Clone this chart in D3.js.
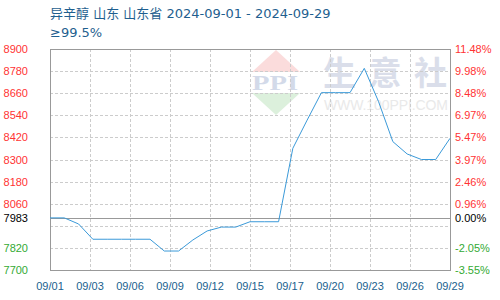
<!DOCTYPE html>
<html>
<head>
<meta charset="utf-8">
<script src="https://cdn.jsdelivr.net/npm/d3@7"></script>
<style>
  body { margin: 0; background: #fff; }
  svg { display: block; font-family: "Liberation Sans", Arial, sans-serif; }
</style>
</head>
<body>
<svg></svg>
<script>
// price per day, 09/01 .. 09/29
const days = d3.range(1, 30);
const prices = [7983, 7983, 7950, 7867, 7867, 7867, 7867, 7867, 7803, 7803,
                7863, 7912, 7933, 7933, 7962, 7962, 7962, 8361, 8514, 8663,
                8663, 8663, 8795, 8614, 8397, 8330, 8300, 8300, 8415];
const xLabels = ["09/01", "09/03", "09/06", "09/09", "09/12", "09/15",
                 "09/17", "09/20", "09/23", "09/26", "09/29"];
const yTicks = [7700, 7820, 7940, 8060, 8180, 8300, 8420, 8540, 8660, 8780, 8900];
const baseValue = 7983;
const titleLines = ["异辛醇 山东 山东省 2024-09-01 - 2024-09-29", "≥99.5%"];

let width = 500, height = 300;
let margin = {left: 50, right: 50, top: 49, bottom: 30};

let svg = d3.select("svg").attr("width", width).attr("height", height);

let x = d3.scaleLinear().domain([0, days.length - 1]).range([margin.left, width - margin.right]);
let y = d3.scaleLinear().domain([7700, 8900]).range([height - margin.bottom, margin.top]);

// watermark (logo + site name)
let wm = svg.append("g");
wm.append("path").attr("d", "M276,50 L300,72 L252,72 Z").attr("fill", "#fbdcdc");
wm.append("path").attr("d", "M252,93 L300,93 L276,115 Z").attr("fill", "#dcf0dc");
wm.append("text").attr("x", 252).attr("y", 90)
  .attr("textLength", 46).attr("lengthAdjust", "spacingAndGlyphs")
  .attr("font-size", 21).attr("font-family", "Liberation Serif, serif").attr("font-weight", "bold")
  .attr("fill", "#d3dae9").text("PPI");
wm.append("text").attr("x", 323).attr("y", 85).attr("textLength", 124)
  .attr("font-size", 33).attr("font-family", "Noto Sans CJK SC").attr("font-weight", "bold")
  .attr("fill", "#dadeea").text("生意社");
wm.append("text").attr("x", 324).attr("y", 110).attr("textLength", 124)
  .attr("font-size", 14).attr("fill", "#e9e9e9").text("WWW.100PPI.COM");

// horizontal grid
svg.append("g").selectAll("line").data(yTicks.slice(1, -1)).join("line")
  .attr("x1", margin.left).attr("x2", width - margin.right)
  .attr("y1", d => Math.round(y(d)) + 0.5).attr("y2", d => Math.round(y(d)) + 0.5)
  .attr("stroke", "#ccc").attr("stroke-dasharray", "3,2");

// vertical grid, evenly spaced with the date labels
let xPos = d3.range(xLabels.length).map(i => x(i * (days.length - 1) / (xLabels.length - 1)));
svg.append("g").selectAll("line").data(xPos.slice(1, -1)).join("line")
  .attr("x1", d => Math.round(d) + 0.5).attr("x2", d => Math.round(d) + 0.5)
  .attr("y1", margin.top).attr("y2", height - margin.bottom)
  .attr("stroke", "#ccc").attr("stroke-dasharray", "3,2");

// base line
svg.append("line")
  .attr("x1", margin.left).attr("x2", width - margin.right)
  .attr("y1", Math.round(y(baseValue)) + 0.5).attr("y2", Math.round(y(baseValue)) + 0.5)
  .attr("stroke", "#999");

// frame
svg.append("rect")
  .attr("x", margin.left + 0.5).attr("y", margin.top + 0.5)
  .attr("width", width - margin.left - margin.right).attr("height", height - margin.top - margin.bottom)
  .attr("fill", "none").attr("stroke", "#999");

// price line
let line = d3.line().x((d, i) => x(i)).y(d => y(d));
svg.append("path").datum(prices)
  .attr("d", line).attr("fill", "none")
  .attr("stroke", "#3b9ad9").attr("stroke-width", 1);

// y labels
let labelTicks = yTicks.filter(d => Math.abs(d - baseValue) > 60).concat([baseValue]);
let col = d => d > baseValue ? "#ff3333" : d < baseValue ? "#33aa33" : "#000";
svg.append("g").selectAll("text").data(labelTicks).join("text")
  .attr("x", 28).attr("y", d => y(d) + 4)
  .attr("text-anchor", "end").attr("font-size", 11)
  .attr("fill", col).text(d => d);

let pct = d => (Math.floor((d / baseValue - 1) * 10000) / 100).toFixed(2) + "%";
svg.append("g").selectAll("text").data(labelTicks).join("text")
  .attr("x", 455).attr("y", d => y(d) + 4)
  .attr("font-size", 11).attr("fill", col).text(pct);

// x labels
svg.append("g").selectAll("text").data(xLabels).join("text")
  .attr("x", (d, i) => xPos[i]).attr("y", 290)
  .attr("text-anchor", "middle").attr("font-size", 11)
  .attr("fill", "#1a5f8e").text(d => d);

// title
svg.append("g").selectAll("text").data(titleLines).join("text")
  .attr("x", 50).attr("y", (d, i) => 18 + i * 19)
  .attr("font-size", 13).attr("font-family", "DejaVu Sans, Noto Sans CJK SC, sans-serif")
  .attr("fill", "#1f5f8f").text(d => d);
</script>
</body>
</html>
